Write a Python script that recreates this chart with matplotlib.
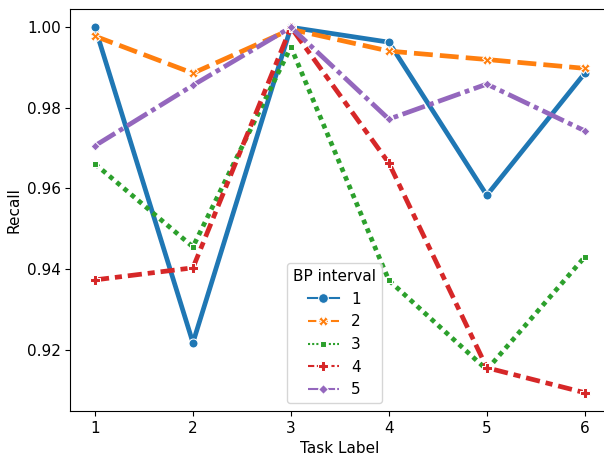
import pandas as pd
import seaborn as sns
from matplotlib import pyplot as plt

tasks = [1, 2, 3, 4, 5, 6]
intervals = ['1', '2', '3', '4', '5']
recall_1 = [1.0000, 0.9217, 1.0000, 0.9963, 0.9583, 0.9886]
recall_2 = [0.9978, 0.9886, 0.9995, 0.9941, 0.9920, 0.9898]
recall_3 = [0.9661, 0.9455, 0.9951, 0.9372, 0.9150, 0.9430]
recall_4 = [0.9373, 0.9403, 1.0000, 0.9663, 0.9155, 0.9093]
recall_5 = [0.9706, 0.9856, 1.0000, 0.9772, 0.9859, 0.9743]

rows = []
for name, vals in zip(intervals, [recall_1, recall_2, recall_3, recall_4, recall_5]):
    for t, v in zip(tasks, vals):
        rows.append({'Task Label': t, 'Recall': v, 'BP interval': name})
df = pd.DataFrame(rows)

plt.rcParams['font.size'] = 11
fig = plt.figure(figsize=(6.04, 4.57), dpi=100)
ax = fig.add_axes([0.1167, 0.1007, 0.892, 0.8796])
sns.lineplot(data=df, x='Task Label', y='Recall', hue='BP interval', style='BP interval',
             markers=True, palette='tab10', linewidth=3.4, markersize=6.5, ax=ax)
ax.set_xticks(tasks)
ax.set_yticks([0.92, 0.94, 0.96, 0.98, 1.00])
leg = ax.legend(title='BP interval', loc='lower center', bbox_to_anchor=(0.49, 0.0))
for line in leg.get_lines():
    line.set_linewidth(1.5)
    line.set_markersize(7)
fig.savefig('out.png', dpi=100)
